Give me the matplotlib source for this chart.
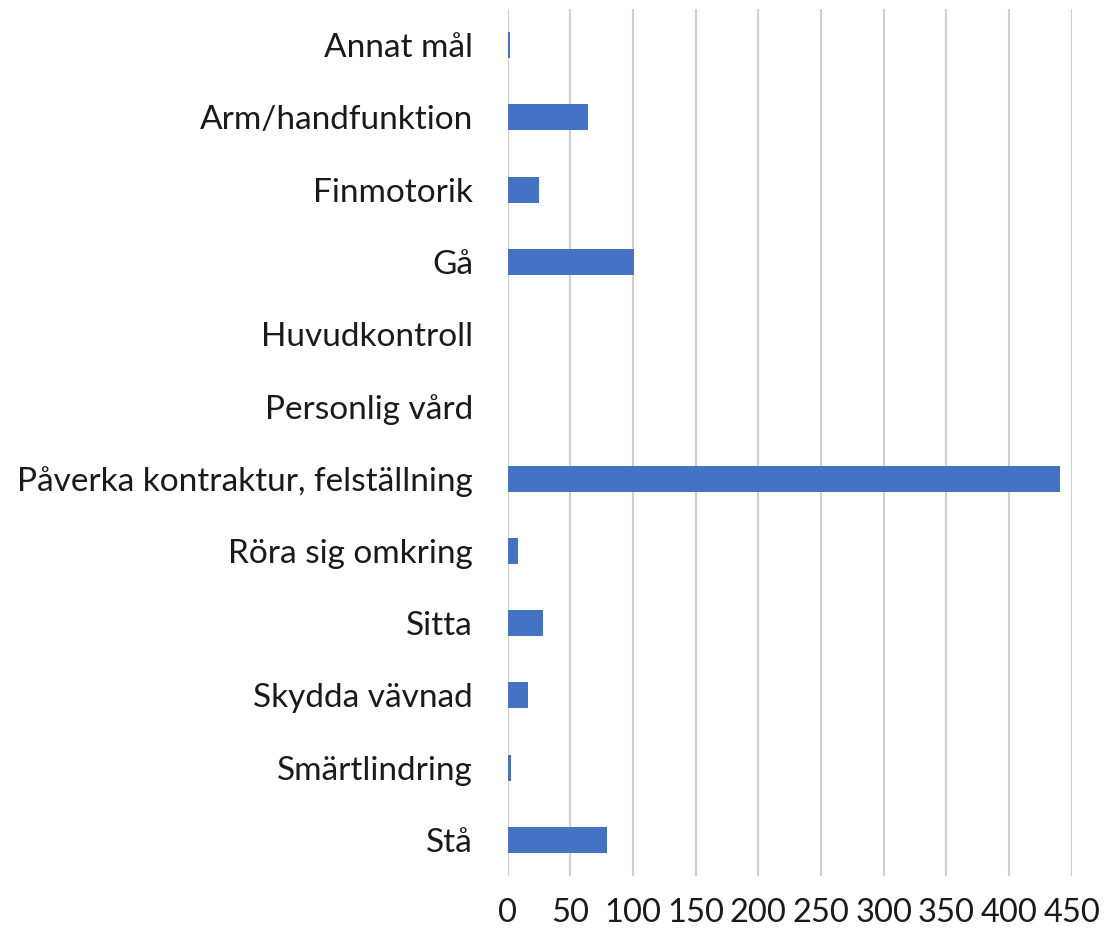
import matplotlib.pyplot as plt

categories = ['Annat mål', 'Arm/handfunktion', 'Finmotorik', 'Gå', 'Huvudkontroll',
              'Personlig vård', 'Påverka kontraktur, felställning', 'Röra sig omkring',
              'Sitta', 'Skydda vävnad', 'Smärtlindring', 'Stå']
values = [2, 64, 25, 101, 0, 0, 441, 8, 28, 16, 3, 79]
xticks = [0, 50, 100, 150, 200, 250, 300, 350, 400, 450]

plt.rcParams['font.family'] = ['Lato', 'DejaVu Sans']

fig = plt.figure(figsize=(11.04, 9.38), dpi=100)
ax = fig.add_axes([0.4599, 0.0661, 0.5109, 0.9243])

ypos = list(range(len(categories)))
ax.barh(ypos, values, height=0.36, color='#4472C4', zorder=3)

ax.set_xlim(0, 450)
ax.set_ylim(len(categories) - 0.5, -0.5)
ax.set_xticks(xticks)
ax.set_yticks(ypos)
ax.set_yticklabels(categories)
ax.grid(axis='x', color='#cfcfcf', linewidth=1.5, zorder=0)
ax.tick_params(axis='both', length=0, colors='#1a1a1a')
ax.tick_params(axis='y', pad=25, labelsize=24)
ax.tick_params(axis='x', pad=16, labelsize=23.5)
for s in ax.spines.values():
    s.set_visible(False)

fig.savefig('out.png', dpi=100)
